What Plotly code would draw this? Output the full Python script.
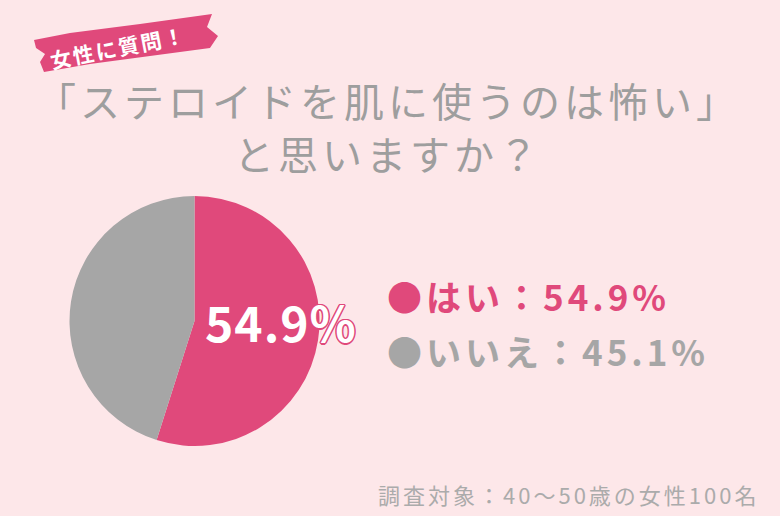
import plotly.graph_objects as go

W, H = 780, 516

labels = ["はい", "いいえ"]
values = [54.9, 45.1]
colors = ["#e0497b", "#a6a6a6"]

title_lines = ["「ステロイドを肌に使うのは怖い」", "と思いますか？"]
tag_text = "女性に質問！"
note_text = "調査対象：40〜50歳の女性100名"

BG = "#fde7e9"
FONT = "Noto Sans CJK JP"

def px(x):
    return x / W

def py(y):
    return 1 - y / H

def ls(text, sp):
    return f'<span style="letter-spacing:{sp}px">{text}</span>'

fig = go.Figure()

fig.add_trace(go.Pie(
    labels=labels,
    values=values,
    marker=dict(colors=colors, line=dict(width=0)),
    sort=False,
    direction="clockwise",
    rotation=0,
    textinfo="none",
    hoverinfo="label+percent",
    showlegend=False,
    domain=dict(x=[px(69), px(320)], y=[py(446), py(196)]),
))

annotations = []

# Tag banner shape (brush stroke)
pts = [(34, 40), (70, 33), (140, 24), (212, 14), (207, 27), (218, 36), (210, 48),
       (150, 56), (90, 64), (44, 72), (40, 62), (45, 54), (36, 48)]
path = "M " + " L ".join(f"{px(x):.4f},{py(y):.4f}" for x, y in pts) + " Z"
shapes = [dict(type="path", path=path, xref="paper", yref="paper",
               fillcolor="#e0497b", line=dict(width=0), layer="above")]

annotations.append(dict(
    text=f"<b>{ls(tag_text, 2)}</b>", x=px(118), y=py(47), xref="paper", yref="paper",
    showarrow=False, textangle=-11, xanchor="center", yanchor="middle",
    font=dict(family=FONT, size=21, color="white")))

# Title
for line, yc in zip(title_lines, [100, 153]):
    annotations.append(dict(
        text=ls(line, 4), x=px(388), y=py(yc), xref="paper", yref="paper",
        showarrow=False, xanchor="center", yanchor="middle",
        font=dict(family=FONT, size=40, color="#9e9e9e")))

# Pie value label
oc = colors[0]
shadow = ", ".join(f"{dx}px {dy}px 0 {oc}" for dx, dy in
                   [(-1, -1), (1, -1), (-1, 1), (1, 1), (0, 1.5), (0, -1.5), (1.5, 0), (-1.5, 0)])
annotations.append(dict(
    text=f"<b>{ls(f'{values[0]:.1f}%', 1)}</b>", x=px(281), y=py(321), xref="paper", yref="paper",
    showarrow=False, xanchor="center", yanchor="middle",
    font=dict(family=FONT, size=48, color="white", shadow=shadow)))

# Legend text
for lab, val, col, yc in zip(labels, values, colors, [295, 350]):
    annotations.append(dict(
        text=f"<b>{ls(f'●{lab}：{val:.1f}%', 4)}</b>", x=px(385), y=py(yc), xref="paper", yref="paper",
        showarrow=False, xanchor="left", yanchor="middle",
        font=dict(family=FONT, size=35, color=col)))

# Footnote
annotations.append(dict(
    text=ls(note_text, 3), x=px(761), y=py(494), xref="paper", yref="paper",
    showarrow=False, xanchor="right", yanchor="middle",
    font=dict(family=FONT, size=22, color="#ababab")))

fig.update_layout(
    width=W, height=H,
    margin=dict(l=0, r=0, t=0, b=0),
    paper_bgcolor=BG, plot_bgcolor=BG,
    annotations=annotations,
    shapes=shapes,
)

fig.write_html(
    "out.html",
    config={"displayModeBar": False},
    post_script="document.body.style.margin='0';document.body.style.background='%s';" % BG,
)
